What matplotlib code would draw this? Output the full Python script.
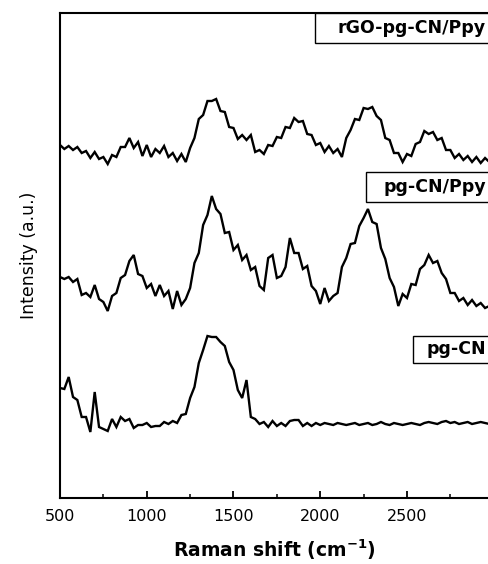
import matplotlib
matplotlib.use("Agg")
import matplotlib.pyplot as plt
from matplotlib.ticker import MultipleLocator, NullLocator
from matplotlib.patches import Rectangle

# Raman shift axis (cm^-1)
shift = [500, 525, 550, 575, 600, 625, 650, 675, 700, 725,
         750, 775, 800, 825, 850, 875, 900, 925, 950, 975,
         1000, 1025, 1050, 1075, 1100, 1125, 1150, 1175, 1200, 1225,
         1250, 1275, 1300, 1325, 1350, 1375, 1400, 1425, 1450, 1475,
         1500, 1525, 1550, 1575, 1600, 1625, 1650, 1675, 1700, 1725,
         1750, 1775, 1800, 1825, 1850, 1875, 1900, 1925, 1950, 1975,
         2000, 2025, 2050, 2075, 2100, 2125, 2150, 2175, 2200, 2225,
         2250, 2275, 2300, 2325, 2350, 2375, 2400, 2425, 2450, 2475,
         2500, 2525, 2550, 2575, 2600, 2625, 2650, 2675, 2700, 2725,
         2750, 2775, 2800, 2825, 2850, 2875, 2900, 2925, 2950, 2975]

# Intensities (a.u., stacked as shown)
rgo_pgcn_ppy = [353, 349, 352, 348, 351, 345, 347, 340, 346, 339,
                341, 334, 343, 341, 351, 351, 360, 350, 356, 342,
                353, 341, 349, 345, 352, 341, 345, 337, 344, 336,
                350, 360, 379, 383, 397, 397, 399, 387, 386, 371,
                370, 359, 363, 358, 363, 346, 348, 344, 353, 352,
                361, 360, 371, 370, 380, 376, 377, 364, 363, 353,
                355, 346, 352, 345, 349, 341, 360, 368, 379, 378,
                390, 389, 391, 382, 378, 360, 358, 345, 345, 336,
                344, 342, 354, 356, 367, 364, 366, 358, 360, 348,
                348, 340, 344, 338, 342, 336, 341, 335, 340, 336]

pgcn_ppy = [221, 219, 221, 216, 219, 203, 205, 201, 213, 199,
            196, 187, 202, 205, 220, 223, 237, 243, 224, 222,
            210, 214, 202, 213, 202, 207, 189, 207, 193, 199,
            210, 235, 245, 273, 283, 302, 289, 284, 265, 266,
            248, 253, 238, 243, 228, 231, 212, 208, 240, 243,
            220, 222, 231, 260, 245, 245, 229, 232, 212, 207,
            194, 210, 197, 202, 205, 231, 240, 254, 255, 272,
            280, 289, 276, 274, 250, 239, 220, 211, 192, 204,
            200, 214, 213, 229, 233, 243, 235, 237, 225, 219,
            205, 205, 197, 200, 193, 198, 192, 195, 190, 192]

pgcn = [110, 109, 121, 101, 98, 81, 81, 66, 106, 71,
        69, 67, 79, 71, 81, 77, 79, 70, 73, 73,
        75, 71, 72, 72, 76, 74, 77, 75, 83, 84,
        100, 111, 135, 148, 162, 161, 161, 156, 152, 136,
        128, 108, 100, 118, 81, 79, 74, 76, 71, 77,
        72, 75, 72, 77, 78, 78, 72, 75, 72, 75,
        73, 75, 74, 73, 75, 74, 73, 74, 75, 73,
        74, 75, 73, 74, 76, 74, 73, 75, 74, 73,
        74, 75, 74, 73, 75, 76, 75, 74, 76, 77,
        75, 76, 74, 75, 76, 74, 75, 76, 75, 74]

labels = ["rGO-pg-CN/Ppy", "pg-CN/Ppy", "pg-CN"]

W, H = 488, 564
fig = plt.figure(figsize=(W / 100, H / 100), dpi=100)
ax = fig.add_axes([60 / W, 1 - 498 / H, (488 - 60) / W, (498 - 13) / H])

for series in (rgo_pgcn_ppy, pgcn_ppy, pgcn):
    ax.plot(shift, series, color="black", lw=1.7, solid_joinstyle="miter")

ax.set_xlim(500, 2967)
ax.set_ylim(0, 485)

for s in ("left", "top", "bottom"):
    ax.spines[s].set_linewidth(1.5)
ax.spines["right"].set_visible(False)

ax.xaxis.set_major_locator(MultipleLocator(500))
ax.xaxis.set_minor_locator(MultipleLocator(250))
ax.yaxis.set_major_locator(NullLocator())
ax.tick_params(axis="x", which="major", direction="in", length=5, width=1.3,
               labelsize=11.5, pad=8, top=False)
ax.tick_params(axis="x", which="minor", direction="in", length=3, width=1.1, top=False)
ax.set_xticks([500, 1000, 1500, 2000, 2500])
ax.set_xticklabels(["500", "1000", "1500", "2000", "2500"],
                   fontfamily="DejaVu Sans")

ax.set_xlabel("Raman shift (cm$^{\\mathbf{-1}}$)", fontsize=13.5, fontweight="bold",
              fontfamily="DejaVu Sans", labelpad=10)
ax.set_ylabel("Intensity (a.u.)", fontsize=12.5, fontfamily="DejaVu Sans", labelpad=16)

# label boxes (figure-pixel layout: left edge, top, bottom)
box_px = [(315, 13, 43), (366, 172, 202), (413, 336, 363)]
for txt, (lx, ty, by) in zip(labels, box_px):
    x0 = 500 + (lx - 60) / 0.1735
    y0 = 498 - by
    hgt = by - ty
    ax.add_patch(Rectangle((x0, y0), 3200 - x0, hgt, fc="white", ec="black",
                           lw=1.0, clip_on=False, zorder=3))
    ax.text(500 + (486 - 60) / 0.1735, y0 + hgt / 2, txt, ha="right", va="center",
            fontsize=12.5, fontweight="bold", fontfamily="DejaVu Sans",
            clip_on=False, zorder=4)

fig.savefig("out.png", dpi=100)
